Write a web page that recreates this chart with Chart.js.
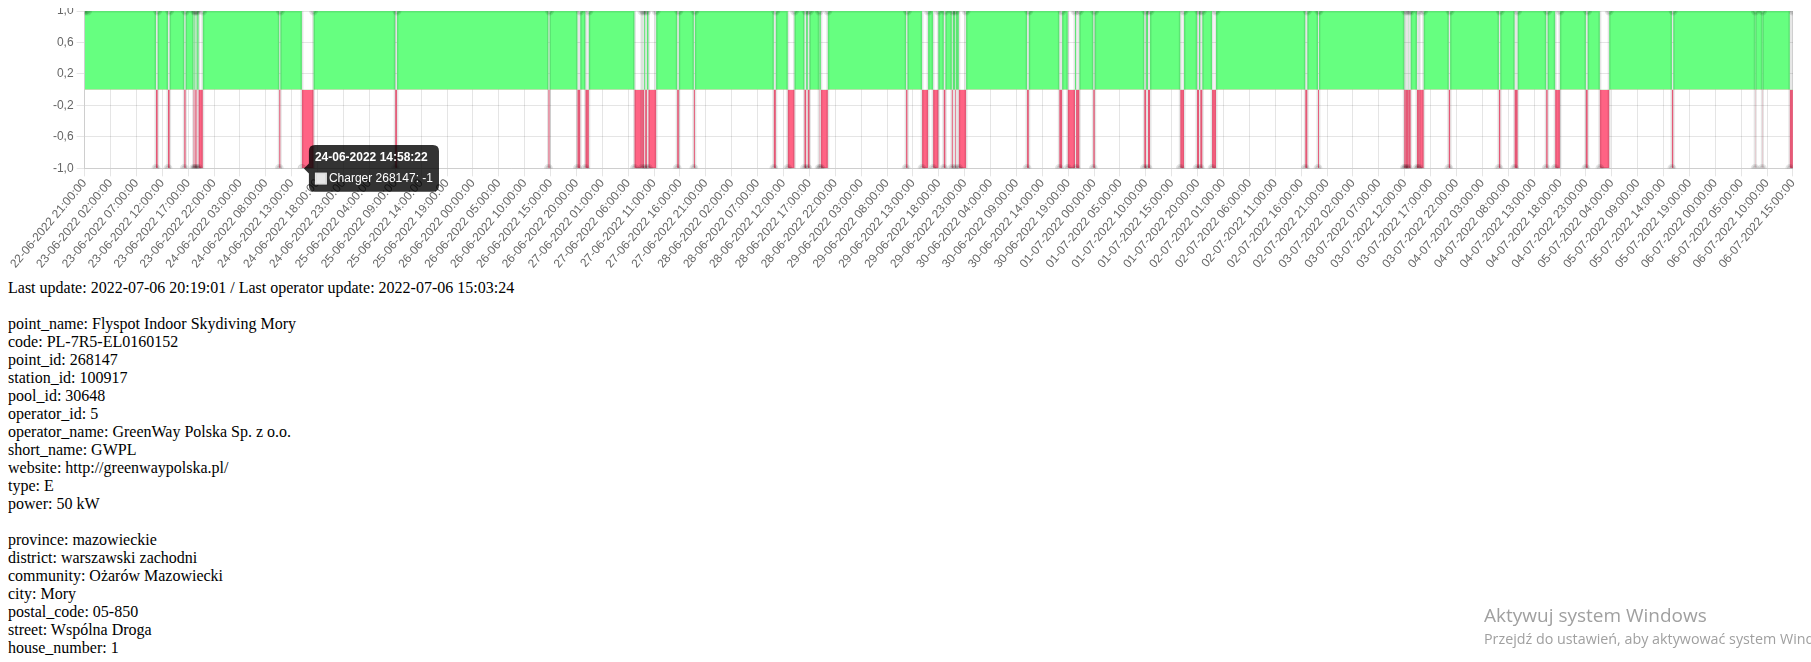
<!DOCTYPE html>
<html>
<head>
<meta charset="utf-8">
<script src="https://cdn.jsdelivr.net/npm/chart.js@4.4.1/dist/chart.umd.min.js"></script>
<style>
  html, body { overflow: hidden; }
  body { margin: 8px; background: #fff; color: #000;
         font-family: "Liberation Serif", "Times New Roman", serif; font-size: 16px; line-height: 18px; }
  #wrap { position: relative; width: 1794px; height: 292px; margin-top: -29px; margin-left: 2px; }
  #info { margin-top: 8px; }
  .wm1 { position: fixed; left: 1484px; top: 603px; font-family: "Open Sans", sans-serif; font-size: 19px;
         color: #a0a0a0; white-space: nowrap; line-height: 24px; }
  .wm2 { position: fixed; left: 1484px; top: 630px; font-family: "Open Sans", sans-serif; font-size: 14.3px;
         color: #a0a0a0; white-space: nowrap; line-height: 18px; }
</style>
</head>
<body>
<div id="wrap"><canvas id="chart"></canvas></div>
<div id="info">Last update: 2022-07-06 20:19:01 / Last operator update: 2022-07-06 15:03:24<br><br>point_name: Flyspot Indoor Skydiving Mory<br>code: PL-7R5-EL0160152<br>point_id: 268147<br>station_id: 100917<br>pool_id: 30648<br>operator_id: 5<br>operator_name: GreenWay Polska Sp. z o.o.<br>short_name: GWPL<br>website: http://greenwaypolska.pl/<br>type: E<br>power: 50 kW<br><br>province: mazowieckie<br>district: warszawski zachodni<br>community: Ożarów Mazowiecki<br>city: Mory<br>postal_code: 05-850<br>street: Wspólna Droga<br>house_number: 1</div>
<div class="wm1">Aktywuj system Windows</div>
<div class="wm2">Przejdź do ustawień, aby aktywować system Windows.</div>
<script>
// ---- data ----
const seriesLabel = "Charger 268147";
const changeTimes = [
  "22-06-2022 21:00:00","22-06-2022 21:35:00",
  "23-06-2022 10:47:00","23-06-2022 11:06:00","23-06-2022 13:06:00","23-06-2022 13:25:00",
  "23-06-2022 16:15:00","23-06-2022 16:30:00",
  "23-06-2022 18:03:00","23-06-2022 18:12:00","23-06-2022 18:20:00","23-06-2022 18:28:00",
  "23-06-2022 18:36:00","23-06-2022 18:44:00","23-06-2022 19:01:00","23-06-2022 19:50:00",
  "24-06-2022 10:36:00","24-06-2022 10:48:00","24-06-2022 14:58:22","24-06-2022 17:13:00",
  "25-06-2022 09:00:00","25-06-2022 09:20:00",
  "26-06-2022 14:36:00","26-06-2022 14:48:00","26-06-2022 20:12:00","26-06-2022 20:44:00",
  "26-06-2022 21:45:00","26-06-2022 22:24:00",
  "27-06-2022 07:13:00","27-06-2022 08:39:00","27-06-2022 08:41:00","27-06-2022 09:05:00",
  "27-06-2022 09:17:00","27-06-2022 09:37:00","27-06-2022 09:55:00","27-06-2022 11:24:00",
  "27-06-2022 15:28:00","27-06-2022 15:47:00",
  "27-06-2022 18:41:00","27-06-2022 18:53:00",
  "28-06-2022 10:08:00","28-06-2022 10:31:00","28-06-2022 12:50:00","28-06-2022 14:07:00",
  "28-06-2022 16:03:00","28-06-2022 16:22:00","28-06-2022 16:42:00","28-06-2022 17:01:00",
  "28-06-2022 18:53:00","28-06-2022 18:56:00","28-06-2022 19:13:00","28-06-2022 20:34:00",
  "29-06-2022 11:41:00","29-06-2022 11:56:00","29-06-2022 14:46:00","29-06-2022 15:56:00",
  "29-06-2022 16:54:00","29-06-2022 17:55:00","29-06-2022 18:58:00","29-06-2022 19:16:00",
  "29-06-2022 20:31:00","29-06-2022 20:42:00","29-06-2022 21:09:00","29-06-2022 21:17:00",
  "29-06-2022 21:52:00","29-06-2022 23:16:00",
  "30-06-2022 11:03:00","30-06-2022 11:23:00","30-06-2022 17:17:00","30-06-2022 17:49:00",
  "30-06-2022 18:55:00","30-06-2022 20:19:00","30-06-2022 20:31:00","30-06-2022 21:09:00",
  "30-06-2022 23:51:00","01-07-2022 00:07:00",
  "01-07-2022 09:42:00","01-07-2022 10:02:00","01-07-2022 10:25:00","01-07-2022 10:48:00",
  "01-07-2022 16:39:00","01-07-2022 17:22:00","01-07-2022 19:53:00","01-07-2022 20:16:00",
  "01-07-2022 20:31:00","01-07-2022 20:54:00","01-07-2022 22:47:00","01-07-2022 23:33:00",
  "02-07-2022 16:48:00","02-07-2022 17:11:00","02-07-2022 19:15:00","02-07-2022 19:26:00",
  "03-07-2022 11:55:00","03-07-2022 12:10:00","03-07-2022 12:12:00","03-07-2022 12:40:00",
  "03-07-2022 12:42:00","03-07-2022 13:09:00",
  "03-07-2022 14:22:00","03-07-2022 14:45:00","03-07-2022 14:47:00","03-07-2022 15:40:00",
  "03-07-2022 20:31:00","03-07-2022 20:46:00",
  "04-07-2022 06:12:00","04-07-2022 06:27:00","04-07-2022 09:14:00","04-07-2022 09:49:00",
  "04-07-2022 15:20:00","04-07-2022 15:36:00","04-07-2022 17:04:00","04-07-2022 17:59:00",
  "04-07-2022 23:00:00","04-07-2022 23:20:00",
  "05-07-2022 01:42:00","05-07-2022 03:30:00","05-07-2022 15:37:00","05-07-2022 15:52:00",
  "06-07-2022 07:42:00","06-07-2022 07:44:00","06-07-2022 09:05:00","06-07-2022 09:07:00",
  "06-07-2022 14:24:00","06-07-2022 15:00:00"
];
const statusValues = [
  1, 1,
  -1, 1, -1, 1,
  -1, 1,
  -1, 1, -1, 1,
  -1, 1, -1, 1,
  -1, 1, -1, 1,
  -1, 1,
  -1, 1, -1, 1,
  -1, 1,
  -1, 1, -1, 1,
  -1, 1, -1, 1,
  -1, 1,
  -1, 1,
  -1, 1, -1, 1,
  -1, 1, -1, 1,
  -1, 1, -1, 1,
  -1, 1, -1, 1,
  -1, 1, -1, 1,
  -1, 1, -1, 1,
  -1, 1,
  -1, 1, -1, 1,
  -1, 1, -1, 1,
  -1, 1,
  -1, 1, -1, 1,
  -1, 1, -1, 1,
  -1, 1, -1, 1,
  -1, 1, -1, 1,
  -1, 1, -1, 1,
  -1, 1,
  -1, 1, -1, 1,
  -1, 1,
  -1, 1,
  -1, 1, -1, 1,
  -1, 1, -1, 1,
  -1, 1,
  -1, 1, -1, 1,
  -1, 1, -1, 1,
  -1, 1
];
const tooltipTime = "24-06-2022 14:58:22";
const xTickFirst = "22-06-2022 21:00:00";
const xTickLast = "06-07-2022 15:00:00";
const xTickStepHours = 5;
const yTickStep = 0.4;

// ---- helpers ----
function parseTime(s) {
  const [d, t] = s.split(" ");
  const [dd, mm, yy] = d.split("-").map(Number);
  const [h, mi, se] = t.split(":").map(Number);
  return Date.UTC(yy, mm - 1, dd, h, mi, se);
}
function p2(n) { return String(n).padStart(2, "0"); }
function fmtTime(ms) {
  const d = new Date(ms);
  return p2(d.getUTCDate()) + "-" + p2(d.getUTCMonth() + 1) + "-" + d.getUTCFullYear() + " " +
         p2(d.getUTCHours()) + ":" + p2(d.getUTCMinutes()) + ":" + p2(d.getUTCSeconds());
}

const points = changeTimes.map((t, i) => ({ x: parseTime(t), y: statusValues[i] }));
const grey = "rgba(0, 0, 0, 0.1)";

const chart = new Chart(document.getElementById("chart"), {
  type: "line",
  data: {
    datasets: [{
      label: seriesLabel,
      data: points,
      stepped: true,
      borderColor: grey,
      backgroundColor: grey,
      pointBackgroundColor: grey,
      pointBorderColor: grey,
      borderWidth: 3,
      fill: { target: "origin", above: "rgb(102, 255, 128)", below: "rgb(255, 99, 132)" }
    }]
  },
  options: {
    responsive: true,
    maintainAspectRatio: false,
    animation: false,
    locale: "pl-PL",
    scales: {
      x: {
        type: "linear",
        min: parseTime(xTickFirst),
        max: parseTime(xTickLast),
        afterFit: axis => { axis.paddingLeft += 3; },
        ticks: { padding: 0, stepSize: xTickStepHours * 3600 * 1000, callback: v => fmtTime(v) }
      },
      y: { min: -1, max: 1, ticks: { stepSize: yTickStep } }
    },
    plugins: {
      colors: { enabled: false },
      tooltip: { callbacks: { title: items => fmtTime(items[0].parsed.x) } }
    }
  }
});

const idx = changeTimes.indexOf(tooltipTime);
const el = chart.getDatasetMeta(0).data[idx];
chart.setActiveElements([{ datasetIndex: 0, index: idx }]);
chart.tooltip.setActiveElements([{ datasetIndex: 0, index: idx }], { x: el.x, y: el.y });
chart.update();
</script>
</body>
</html>
